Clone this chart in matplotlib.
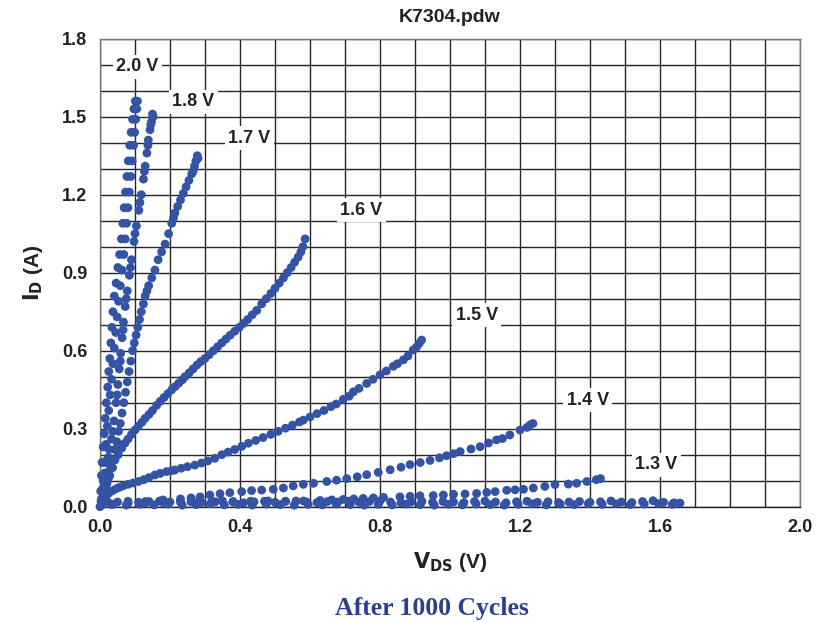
import matplotlib.pyplot as plt
from matplotlib.ticker import MultipleLocator

# 측정 데이터 (VDS [V], ID [A]) - 게이트 전압별
vgs_20 = [(0.000, 0.00), (0.002, 0.06), (0.004, 0.12), (0.006, 0.17), (0.009, 0.23), (0.012, 0.28),
          (0.015, 0.34), (0.018, 0.40), (0.022, 0.46), (0.025, 0.52), (0.028, 0.57), (0.031, 0.63),
          (0.034, 0.69), (0.037, 0.75), (0.041, 0.81), (0.046, 0.86), (0.051, 0.92), (0.056, 0.97),
          (0.061, 1.03), (0.065, 1.09), (0.069, 1.15), (0.073, 1.21), (0.077, 1.27), (0.081, 1.33),
          (0.085, 1.39), (0.089, 1.44), (0.093, 1.49), (0.097, 1.53), (0.101, 1.56),
          (0.005, 0.03), (0.009, 0.10), (0.013, 0.17), (0.017, 0.24), (0.021, 0.31), (0.025, 0.37),
          (0.029, 0.43), (0.033, 0.49), (0.037, 0.55), (0.041, 0.61), (0.045, 0.67), (0.049, 0.73),
          (0.053, 0.79), (0.058, 0.85), (0.063, 0.91), (0.068, 0.97), (0.072, 1.03), (0.076, 1.09),
          (0.080, 1.15), (0.084, 1.21), (0.088, 1.27), (0.092, 1.33), (0.096, 1.39), (0.099, 1.44),
          (0.102, 1.49), (0.105, 1.53), (0.107, 1.56)]
vgs_18 = [(0.003, 0.02), (0.008, 0.07), (0.014, 0.13), (0.020, 0.18), (0.026, 0.22), (0.033, 0.26),
          (0.040, 0.33), (0.046, 0.40), (0.051, 0.47), (0.055, 0.53), (0.059, 0.59), (0.063, 0.65),
          (0.067, 0.71), (0.072, 0.77), (0.078, 0.83), (0.084, 0.89), (0.090, 0.95), (0.097, 1.02),
          (0.104, 1.08), (0.111, 1.14), (0.118, 1.20), (0.124, 1.26), (0.129, 1.31), (0.134, 1.36),
          (0.138, 1.41), (0.143, 1.45), (0.147, 1.48), (0.150, 1.51),
          (0.012, 0.09), (0.024, 0.19), (0.036, 0.29), (0.049, 0.43), (0.058, 0.56), (0.066, 0.68),
          (0.075, 0.80), (0.087, 0.92), (0.100, 1.05), (0.114, 1.17), (0.127, 1.29), (0.137, 1.39),
          (0.145, 1.47), (0.152, 1.50)]
vgs_17 = [(0.004, 0.02), (0.010, 0.05), (0.017, 0.08), (0.024, 0.11), (0.030, 0.15), (0.036, 0.18),
          (0.042, 0.22), (0.048, 0.25), (0.053, 0.29), (0.058, 0.32), (0.063, 0.36), (0.068, 0.40),
          (0.073, 0.44), (0.078, 0.48), (0.083, 0.52), (0.088, 0.56), (0.093, 0.60), (0.098, 0.63),
          (0.103, 0.66), (0.108, 0.69), (0.113, 0.72), (0.118, 0.75), (0.124, 0.78), (0.129, 0.81),
          (0.134, 0.83), (0.139, 0.85), (0.148, 0.88), (0.157, 0.91), (0.166, 0.95), (0.176, 0.98),
          (0.186, 1.01), (0.196, 1.05), (0.205, 1.09), (0.210, 1.11), (0.214, 1.13), (0.222, 1.155),
          (0.230, 1.18), (0.238, 1.205), (0.246, 1.23), (0.254, 1.255), (0.262, 1.28), (0.266, 1.29),
          (0.270, 1.31), (0.274, 1.33), (0.278, 1.35), (0.280, 1.34)]
vgs_16 = [(0.005, 0.03), (0.012, 0.06), (0.020, 0.09), (0.028, 0.12), (0.036, 0.15), (0.043, 0.18),
          (0.052, 0.20), (0.062, 0.225), (0.071, 0.244), (0.080, 0.26), (0.090, 0.278), (0.100, 0.295),
          (0.110, 0.31), (0.120, 0.325), (0.129, 0.34), (0.140, 0.355), (0.150, 0.37), (0.162, 0.39),
          (0.172, 0.405), (0.183, 0.42), (0.194, 0.435), (0.205, 0.45), (0.215, 0.462), (0.225, 0.475),
          (0.235, 0.488), (0.243, 0.50), (0.255, 0.515), (0.266, 0.53), (0.277, 0.545), (0.288, 0.558),
          (0.300, 0.57), (0.312, 0.585), (0.324, 0.60), (0.336, 0.615), (0.348, 0.63), (0.360, 0.645),
          (0.372, 0.66), (0.385, 0.675), (0.398, 0.69), (0.410, 0.705), (0.422, 0.72), (0.435, 0.738),
          (0.448, 0.755), (0.462, 0.78), (0.475, 0.80), (0.488, 0.82), (0.500, 0.84), (0.512, 0.86),
          (0.524, 0.88), (0.535, 0.90), (0.546, 0.92), (0.556, 0.94), (0.566, 0.96), (0.574, 0.98),
          (0.580, 1.00), (0.586, 1.03)]
vgs_15 = [(0.004, 0.015), (0.010, 0.028), (0.017, 0.040), (0.024, 0.051), (0.034, 0.060), (0.045, 0.068),
          (0.055, 0.074), (0.066, 0.080), (0.080, 0.086), (0.094, 0.091), (0.110, 0.097), (0.125, 0.104),
          (0.140, 0.112), (0.157, 0.122), (0.172, 0.128), (0.190, 0.135), (0.205, 0.139), (0.214, 0.141),
          (0.232, 0.148), (0.250, 0.154), (0.271, 0.160), (0.290, 0.168), (0.308, 0.176), (0.328, 0.186),
          (0.348, 0.200), (0.366, 0.210), (0.385, 0.220), (0.405, 0.232), (0.424, 0.244), (0.445, 0.255),
          (0.466, 0.266), (0.488, 0.278), (0.509, 0.290), (0.530, 0.302), (0.550, 0.314), (0.570, 0.326),
          (0.581, 0.333), (0.600, 0.345), (0.620, 0.358), (0.640, 0.370), (0.660, 0.385), (0.675, 0.395),
          (0.695, 0.413), (0.712, 0.425), (0.724, 0.442), (0.740, 0.455), (0.762, 0.474), (0.780, 0.490),
          (0.800, 0.507), (0.818, 0.522), (0.838, 0.540), (0.850, 0.550), (0.867, 0.565), (0.880, 0.580),
          (0.895, 0.603), (0.905, 0.615), (0.912, 0.628), (0.919, 0.641)]
vgs_14 = [(0.005, 0.006), (0.030, 0.010), (0.080, 0.015), (0.130, 0.020), (0.180, 0.026), (0.230, 0.030),
          (0.260, 0.034), (0.286, 0.038), (0.314, 0.045), (0.343, 0.050), (0.371, 0.054), (0.405, 0.058),
          (0.433, 0.062), (0.462, 0.064), (0.495, 0.067), (0.524, 0.072), (0.552, 0.080), (0.581, 0.086),
          (0.610, 0.090), (0.648, 0.097), (0.676, 0.102), (0.705, 0.108), (0.735, 0.115), (0.762, 0.123),
          (0.795, 0.132), (0.829, 0.142), (0.860, 0.152), (0.886, 0.162), (0.915, 0.170), (0.943, 0.178),
          (0.970, 0.188), (0.990, 0.196), (1.010, 0.204), (1.029, 0.212), (1.060, 0.222), (1.086, 0.231),
          (1.110, 0.245), (1.133, 0.257), (1.150, 0.262), (1.171, 0.276), (1.200, 0.295), (1.220, 0.305),
          (1.229, 0.315), (1.237, 0.320)]
vgs_13 = [(0.030, 0.012), (0.080, 0.014), (0.130, 0.015), (0.180, 0.016), (0.230, 0.017), (0.280, 0.018),
          (0.330, 0.019), (0.380, 0.020), (0.430, 0.021), (0.480, 0.022), (0.530, 0.021), (0.581, 0.022),
          (0.629, 0.024), (0.662, 0.026), (0.695, 0.028), (0.725, 0.030), (0.752, 0.032), (0.781, 0.034),
          (0.810, 0.036), (0.857, 0.038), (0.886, 0.040), (0.914, 0.042), (0.952, 0.043), (0.981, 0.045),
          (1.010, 0.048), (1.043, 0.049), (1.076, 0.051), (1.105, 0.055), (1.129, 0.058), (1.162, 0.063),
          (1.186, 0.065), (1.210, 0.067), (1.238, 0.072), (1.271, 0.078), (1.300, 0.085), (1.338, 0.087),
          (1.362, 0.090), (1.391, 0.097), (1.418, 0.104), (1.430, 0.108)]
# 라벨 없는 저전압 곡선 (바닥 근처)
vgs_low = [(0.02, 0.020), (0.05, 0.018), (0.08, 0.021), (0.11, 0.017), (0.14, 0.020), (0.17, 0.022),
           (0.20, 0.018), (0.23, 0.021), (0.26, 0.019), (0.29, 0.016), (0.32, 0.020), (0.35, 0.022),
           (0.38, 0.018), (0.41, 0.015), (0.44, 0.019), (0.47, 0.021), (0.50, 0.017), (0.53, 0.020),
           (0.56, 0.022), (0.59, 0.018), (0.62, 0.016), (0.65, 0.020), (0.68, 0.018), (0.71, 0.021),
           (0.74, 0.017), (0.77, 0.020), (0.80, 0.022), (0.83, 0.018), (0.86, 0.015), (0.89, 0.019),
           (0.92, 0.021), (0.95, 0.017), (0.98, 0.020), (1.01, 0.018), (1.04, 0.016), (1.07, 0.020),
           (1.10, 0.022), (1.13, 0.018), (1.16, 0.015), (1.19, 0.019), (1.22, 0.021), (1.25, 0.017),
           (1.28, 0.019), (1.31, 0.016), (1.34, 0.018), (1.37, 0.020), (1.40, 0.017), (1.43, 0.019),
           (1.46, 0.022), (1.49, 0.018), (1.52, 0.016), (1.55, 0.020), (1.58, 0.023), (1.61, 0.017),
           (1.64, 0.015), (1.657, 0.014),
           (0.035, 0.008), (0.075, 0.006), (0.115, 0.009), (0.155, 0.007), (0.195, 0.010), (0.235, 0.006),
           (0.275, 0.008), (0.315, 0.011), (0.355, 0.007), (0.395, 0.009), (0.435, 0.006), (0.475, 0.010),
           (0.515, 0.008), (0.555, 0.006), (0.595, 0.009), (0.635, 0.007), (0.675, 0.010), (0.715, 0.008),
           (0.755, 0.006), (0.795, 0.009), (0.835, 0.007), (0.875, 0.010), (0.915, 0.008), (0.955, 0.006),
           (0.995, 0.009), (1.035, 0.007), (1.075, 0.010), (1.115, 0.008), (1.155, 0.006), (1.195, 0.009),
           (1.235, 0.011), (1.275, 0.007), (1.315, 0.010), (1.355, 0.008), (1.395, 0.012), (1.435, 0.009),
           (1.475, 0.011), (1.515, 0.008), (1.555, 0.010), (1.595, 0.012), (1.635, 0.009)]

curves = [vgs_20, vgs_18, vgs_17, vgs_16, vgs_15, vgs_14, vgs_13, vgs_low]

# 곡선 라벨과 위치 (VDS, ID)
label_text = ['2.0 V', '1.8 V', '1.7 V', '1.6 V', '1.5 V', '1.4 V', '1.3 V']
label_x = [0.107, 0.267, 0.426, 0.746, 1.077, 1.394, 1.590]
label_y = [1.692, 1.558, 1.417, 1.141, 0.737, 0.410, 0.162]

x_ticks = [0.0, 0.4, 0.8, 1.2, 1.6, 2.0]
y_ticks = [0.0, 0.3, 0.6, 0.9, 1.2, 1.5, 1.8]

plt.rcParams['font.family'] = ['Liberation Sans', 'DejaVu Sans']
dot_color = '#3553a5'

fig = plt.figure(figsize=(8.29, 6.22), dpi=100)
ax = fig.add_axes([100 / 829, 115.3 / 622, 700 / 829, 468 / 622])

for pts in curves:
    vds = [p[0] for p in pts]
    ids = [p[1] for p in pts]
    ax.scatter(vds, ids, s=40, color=dot_color, edgecolors='none', zorder=3, clip_on=False)

for t, x, y in zip(label_text, label_x, label_y):
    ax.text(x, y, t, ha='center', va='center', fontsize=13, fontweight='bold', color='#222222', zorder=4,
            bbox=dict(facecolor='white', edgecolor='none', pad=2.5))

ax.set_xlim(0, 2.0)
ax.set_ylim(0, 1.8)
ax.set_xticks(x_ticks)
ax.set_yticks(y_ticks)
ax.set_xticklabels([f'{v:.1f}' for v in x_ticks])
ax.set_yticklabels([f'{v:.1f}' for v in y_ticks])
ax.xaxis.set_minor_locator(MultipleLocator(0.1))
ax.yaxis.set_minor_locator(MultipleLocator(0.1))
ax.grid(which='both', color='#262626', linewidth=1.0)
ax.set_axisbelow(True)
ax.tick_params(which='both', length=0, pad=9, labelsize=13)
for lbl in ax.get_xticklabels() + ax.get_yticklabels():
    lbl.set_fontweight('bold')
    lbl.set_color('#222222')
for sp in ax.spines.values():
    sp.set_color('#777777')
    sp.set_linewidth(1.0)
ax.spines['bottom'].set_color('#222222')

ax.set_title('K7304.pdw', fontsize=14, fontweight='bold', color='#222222', pad=12)
ax.set_xlabel(r'$\mathbf{V_{DS}}$ (V)', fontsize=15, fontweight='bold', color='#222222', labelpad=10)
ax.set_ylabel(r'$\mathbf{I_{D}}$ (A)', fontsize=15, fontweight='bold', color='#222222', labelpad=12)

fig.text(432 / 829, 1 - 609 / 622, 'After 1000 Cycles', ha='center', va='center', fontsize=18.5,
         fontweight='bold', family='Liberation Serif', color='#2b3f8c')

fig.savefig('out.png', dpi=100)
